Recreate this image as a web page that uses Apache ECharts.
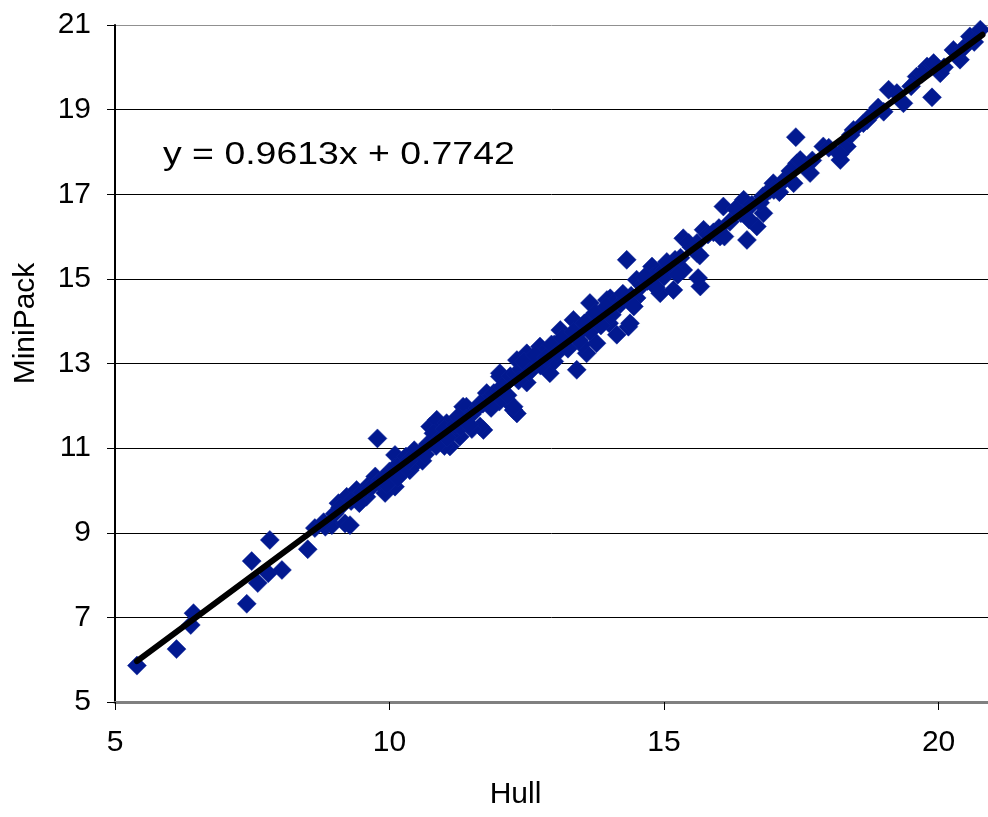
<!DOCTYPE html>
<html>
<head>
<meta charset="utf-8">
<script src="https://cdn.jsdelivr.net/npm/echarts@6/dist/echarts.min.js"></script>
<style>
html,body{margin:0;padding:0;background:#fff;}
#chart{width:988px;height:817px;}
</style>
</head>
<body>
<div id="chart"></div>
<script>
// Hull (x) values
const hullX = [
  5.40, 6.12, 6.38, 6.43, 7.40, 7.49, 7.60, 7.79, 7.82, 8.04,
  8.51, 8.64, 8.83, 8.95, 9.07, 9.19, 9.22, 9.28, 9.40, 9.58,
  9.74, 9.78, 9.92, 10.10, 10.10, 10.37, 10.50, 10.74, 10.86, 11.04,
  11.10, 11.28, 11.34, 11.71, 11.65, 11.77, 12.01, 12.13, 12.26, 12.32,
  11.40, 12.26, 12.01, 12.32, 12.50, 12.74, 12.92, 13.11, 13.35, 13.41,
  13.59, 13.77, 13.65, 14.02, 13.96, 14.14, 14.35, 14.38, 14.32, 14.50,
  14.78, 14.93, 15.17, 15.35, 15.35, 15.60, 15.66, 15.72, 16.02, 16.08,
  16.45, 16.51, 16.69, 16.81, 16.93, 16.99, 17.36, 17.40, 17.42, 17.48,
  17.66, 17.90, 18.21, 18.33, 18.45, 18.63, 18.81, 19.09, 19.24, 19.36,
  19.60, 19.79, 19.88, 19.91, 20.03, 20.27, 20.39, 20.57, 20.76, 15.11,
  15.62, 9.30, 9.50, 9.60, 9.80, 9.90, 10.00, 10.10, 10.00, 10.20,
  10.30, 10.50, 10.60, 10.70, 10.80, 10.90, 11.00, 11.10, 11.20, 11.30,
  11.40, 11.50, 11.60, 11.70, 11.80, 11.90, 12.00, 12.10, 12.20, 12.30,
  12.40, 12.50, 12.60, 12.70, 12.80, 12.90, 13.00, 13.10, 13.20, 13.30,
  13.40, 13.50, 13.60, 13.70, 13.80, 13.90, 14.00, 14.10, 14.20, 14.30,
  14.40, 14.60, 14.70, 14.80, 14.90, 15.00, 15.10, 15.20, 15.30, 15.50,
  15.60, 15.80, 16.00, 16.20, 16.40, 16.60, 16.80, 17.00, 17.20, 10.40,
  10.60, 11.00, 11.50, 12.00, 12.50, 13.00, 13.50, 14.00, 14.50, 15.00,
  10.25, 10.45, 10.65, 10.85, 11.05, 11.25, 11.45, 11.65, 11.85, 12.05,
  12.15, 12.35, 12.45, 12.55, 12.65, 12.75, 12.85, 12.95, 13.05, 13.15,
  13.25, 13.35, 13.45, 13.55, 13.65, 13.75, 13.85, 13.95, 14.05, 14.25,
  14.45, 14.65, 14.85, 15.05, 15.25, 15.45, 15.65, 15.90, 16.10, 16.30,
  16.55, 16.75, 17.10, 17.30, 17.70, 18.00, 18.20, 18.40, 18.70, 18.90,
  19.00, 19.50, 19.70, 20.10, 20.45, 20.65, 9.00, 8.80, 9.10, 9.45,
  9.65, 9.95, 10.15, 10.35
];
// MiniPack (y) values
const miniY = [
  5.86, 6.25, 6.82, 7.10, 7.32, 8.33, 7.81, 8.04, 8.83, 8.12,
  8.61, 9.11, 9.14, 9.18, 9.70, 9.22, 9.85, 9.18, 10.01, 9.85,
  10.33, 11.23, 9.94, 10.09, 10.84, 10.48, 10.84, 11.51, 11.67, 11.59,
  11.04, 11.27, 11.98, 11.43, 11.51, 12.30, 12.69, 12.14, 11.90, 11.82,
  11.98, 11.98, 12.77, 13.08, 13.24, 13.40, 12.77, 13.79, 14.03, 12.85,
  13.24, 13.48, 14.43, 14.54, 14.50, 13.68, 13.87, 13.95, 15.45, 14.98,
  15.29, 14.66, 14.74, 15.21, 15.96, 15.61, 14.82, 16.16, 16.00, 16.71,
  16.87, 15.92, 16.24, 16.55, 17.10, 17.26, 17.26, 18.35, 17.73, 17.81,
  17.50, 18.13, 17.81, 18.13, 18.52, 18.68, 18.91, 19.47, 19.39, 19.15,
  19.78, 20.02, 19.29, 20.10, 19.86, 20.41, 20.18, 20.73, 20.89, 15.28,
  15.02, 9.75, 9.95, 10.10, 10.20, 10.30, 10.45, 10.55, 10.20, 10.62,
  10.80, 10.85, 10.95, 11.10, 11.35, 11.20, 11.45, 11.30, 11.55, 11.50,
  11.70, 11.80, 11.95, 12.05, 12.15, 12.30, 12.35, 12.50, 12.70, 12.75,
  12.85, 12.95, 13.10, 13.05, 13.25, 13.20, 13.45, 13.40, 13.55, 13.65,
  13.70, 13.80, 14.00, 13.95, 14.10, 14.20, 14.30, 14.45, 14.40, 14.55,
  14.60, 14.85, 14.95, 15.05, 15.15, 15.20, 15.30, 15.45, 15.50, 15.75,
  15.85, 16.05, 16.20, 16.35, 16.55, 16.75, 16.95, 17.10, 17.35, 10.55,
  10.70, 11.05, 11.45, 12.10, 12.55, 13.05, 13.45, 13.95, 14.55, 15.05,
  10.45, 10.95, 10.85, 11.05, 11.25, 11.75, 11.55, 12.05, 11.95, 12.45,
  12.25, 12.60, 13.05, 12.80, 13.20, 12.95, 13.15, 13.45, 13.25, 13.60,
  13.35, 13.75, 13.55, 13.95, 13.75, 14.20, 13.90, 14.35, 14.15, 14.65,
  14.35, 15.05, 14.80, 15.40, 15.10, 15.85, 15.55, 16.10, 16.00, 16.65,
  16.40, 16.80, 17.05, 17.55, 17.80, 18.10, 17.95, 18.40, 18.75, 19.05,
  18.95, 19.55, 19.85, 20.00, 20.45, 20.60, 9.45, 9.25, 9.60, 9.70,
  10.05, 10.15, 10.30, 10.70
];
// Trendline (as printed on the chart)
const slope = 0.9613;
const intercept = 0.7742;
const trendX = [5.40, 20.80];
const xTicks = [5, 10, 15, 20];
const equationText = 'y = 0.9613x + 0.7742';

const FONT = '"Liberation Sans", Arial, sans-serif';
const points = hullX.map((x, i) => [x, miniY[i]]);
const trendData = trendX.map(x => [x, slope * x + intercept]);

const chart = echarts.init(document.getElementById('chart'), null, {renderer: 'canvas'});
chart.setOption({
  animation: false,
  backgroundColor: '#ffffff',
  grid: {left: 115, right: 0, top: 25, bottom: 115, containLabel: false},
  xAxis: {
    type: 'value', min: 5, max: 20.9,
    name: 'Hull', nameLocation: 'middle', nameGap: 78,
    nameTextStyle: {fontFamily: FONT, fontSize: 30, color: '#000', padding: [0, 72, 0, 0]},
    axisLine: {show: true, lineStyle: {color: '#808080', width: 3}},
    axisTick: {show: true, inside: false, length: 8, customValues: xTicks, lineStyle: {color: '#000', width: 1}},
    axisLabel: {fontFamily: FONT, fontSize: 30, color: '#000', margin: 26, customValues: xTicks},
    splitLine: {show: false}
  },
  yAxis: {
    type: 'value', min: 5, max: 21, interval: 2,
    name: 'MiniPack', nameLocation: 'middle', nameGap: 74, nameRotate: 90,
    nameTextStyle: {fontFamily: FONT, fontSize: 30, color: '#000', padding: [0, 0, 0, 80]},
    axisLine: {show: true, onZero: false, lineStyle: {color: '#000', width: 2}},
    axisTick: {show: true, inside: false, length: 8, lineStyle: {color: '#000', width: 1}},
    axisLabel: {fontFamily: FONT, fontSize: 30, color: '#000', margin: 24},
    splitLine: {show: true, lineStyle: {color: ['#808080', '#000', '#000', '#000', '#000', '#000', '#000', '#000', '#909090'], width: 1}}
  },
  graphic: [{
    type: 'text', x: 163, y: 155, z: 100, scaleX: 1.17,
    style: {text: equationText, font: '32px ' + FONT, fill: '#000', textAlign: 'left', textVerticalAlign: 'middle'}
  }],
  series: [{
    type: 'scatter', data: points, symbol: 'diamond', symbolSize: 19,
    itemStyle: {color: '#021990', opacity: 1, borderColor: '#0a2296', borderWidth: 0.5}, z: 2
  }, {
    type: 'line', data: trendData, symbol: 'none', z: 5,
    lineStyle: {color: '#000', width: 6, cap: 'round'}
  }]
});
</script>
</body>
</html>
